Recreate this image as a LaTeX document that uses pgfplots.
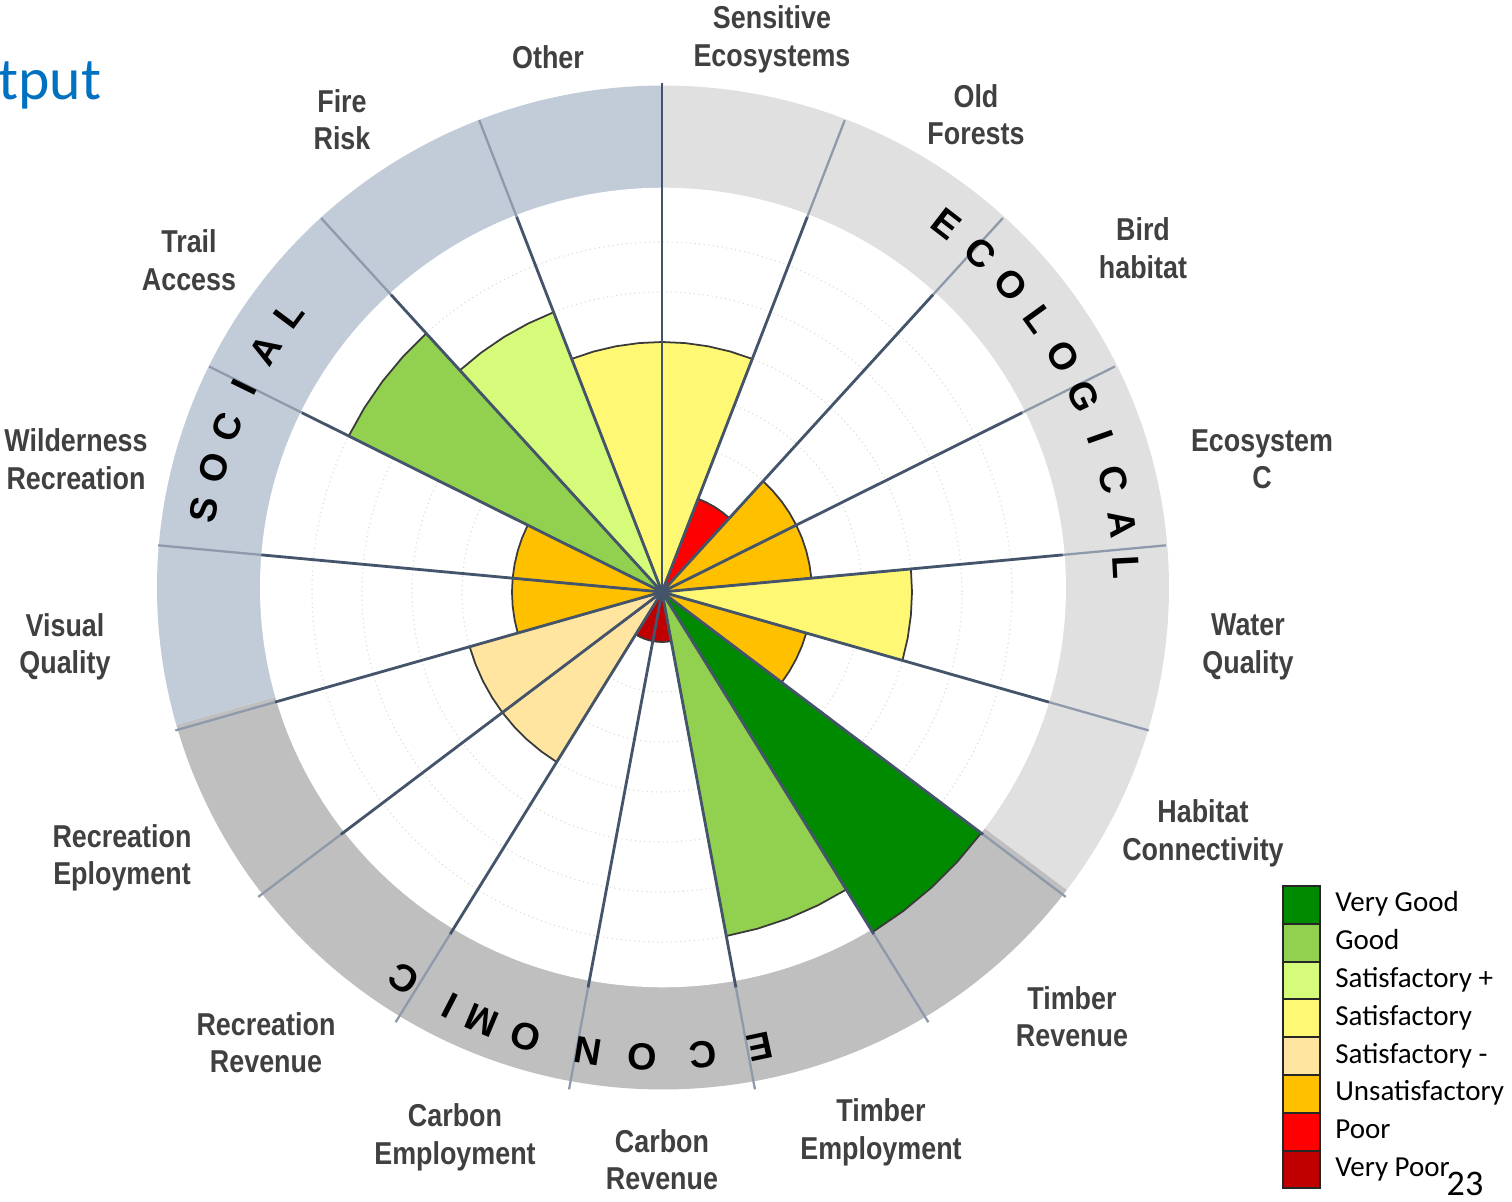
\documentclass[border=0pt]{standalone}
\usepackage{pgfplots}
\pgfplotsset{compat=1.18}
\usepgfplotslibrary{polar}
\usepackage{fontspec}
\setmainfont{Liberation Sans}
\newfontfamily\labfont[FakeStretch=0.85]{Liberation Sans}
\newfontfamily\calfont{Carlito}
\definecolor{ringeco}{HTML}{E0E0E0}
\definecolor{ringecon}{HTML}{BFBFBF}
\definecolor{ringsoc}{HTML}{C2CBD8}
\definecolor{radin}{HTML}{44546A}
\definecolor{radout}{HTML}{8E9AAB}
\definecolor{labgray}{HTML}{404040}
\definecolor{barline}{HTML}{3A3A3A}
\definecolor{titleblue}{HTML}{0070C0}
\definecolor{cvg}{HTML}{008A00}
\definecolor{cg}{HTML}{92D050}
\definecolor{csp}{HTML}{D6FA7A}
\definecolor{cs}{HTML}{FFF875}
\definecolor{csm}{HTML}{FFE59F}
\definecolor{cu}{HTML}{FFC000}
\definecolor{cp}{HTML}{FF0000}
\definecolor{cvp}{HTML}{C00000}
\begin{document}
\begin{tikzpicture}
\path[use as bounding box] (-13.24,-12.2) rectangle (17.0,11.84);
% outer ring
\begin{scope}[shift={(0.02,0.09)}, yscale=0.992]
\fill[ringeco] (0,0) -- (90:10.12) arc[start angle=90,end angle=-37.059,radius=10.12] -- cycle;
\fill[ringecon] (0,0) -- (-37.059:10.12) arc[start angle=-37.059,end angle=-164.118,radius=10.12] -- cycle;
\fill[ringsoc] (0,0) -- (-164.118:10.12) arc[start angle=-164.118,end angle=-270,radius=10.12] -- cycle;
\fill[white] (0,0) circle[radius=8.06];
\end{scope}
\foreach \r in {1,...,7} \draw[black!15, dotted, line width=0.6pt] (0,0) circle[radius=\r];
\begin{axis}[at={(-10.5cm,-10.5cm)}, anchor=south west, x=1cm, y=1cm,
  xmin=-10.5, xmax=10.5, ymin=-10.5, ymax=10.5, hide axis, clip=false]
% Sensitive Ecosystems = 5
\addplot[data cs=polar, fill=cs, draw=barline, line width=1pt] coordinates {(90,0) (90,5) (84.706,5) (79.412,5) (74.118,5) (68.824,5) (68.824,0)} --cycle;
% Old Forests = 2
\addplot[data cs=polar, fill=cp, draw=barline, line width=1pt] coordinates {(68.824,0) (68.824,2) (63.529,2) (58.235,2) (52.941,2) (47.647,2) (47.647,0)} --cycle;
% Bird habitat = 3
\addplot[data cs=polar, fill=cu, draw=barline, line width=1pt] coordinates {(47.647,0) (47.647,3) (42.353,3) (37.059,3) (31.765,3) (26.471,3) (26.471,0)} --cycle;
% Ecosystem C = 3
\addplot[data cs=polar, fill=cu, draw=barline, line width=1pt] coordinates {(26.471,0) (26.471,3) (21.176,3) (15.882,3) (10.588,3) (5.294,3) (5.294,0)} --cycle;
% Water Quality = 5
\addplot[data cs=polar, fill=cs, draw=barline, line width=1pt] coordinates {(5.294,0) (5.294,5) (0,5) (-5.294,5) (-10.588,5) (-15.882,5) (-15.882,0)} --cycle;
% Habitat Connectivity = 3
\addplot[data cs=polar, fill=cu, draw=barline, line width=1pt] coordinates {(-15.882,0) (-15.882,3) (-21.176,3) (-26.471,3) (-31.765,3) (-37.059,3) (-37.059,0)} --cycle;
% Timber Revenue = 8
\addplot[data cs=polar, fill=cvg, draw=barline, line width=1pt] coordinates {(-37.059,0) (-37.059,8) (-42.353,8) (-47.647,8) (-52.941,8) (-58.235,8) (-58.235,0)} --cycle;
% Timber Employment = 7
\addplot[data cs=polar, fill=cg, draw=barline, line width=1pt] coordinates {(-58.235,0) (-58.235,7) (-63.529,7) (-68.824,7) (-74.118,7) (-79.412,7) (-79.412,0)} --cycle;
% Carbon Revenue = 1
\addplot[data cs=polar, fill=cvp, draw=barline, line width=1pt] coordinates {(-79.412,0) (-79.412,1) (-84.706,1) (-90,1) (-95.294,1) (-100.588,1) (-100.588,0)} --cycle;
% Carbon Employment = 1
\addplot[data cs=polar, fill=cvp, draw=barline, line width=1pt] coordinates {(-100.588,0) (-100.588,1) (-105.882,1) (-111.176,1) (-116.471,1) (-121.765,1) (-121.765,0)} --cycle;
% Recreation Revenue = 4
\addplot[data cs=polar, fill=csm, draw=barline, line width=1pt] coordinates {(-121.765,0) (-121.765,4) (-127.059,4) (-132.353,4) (-137.647,4) (-142.941,4) (-142.941,0)} --cycle;
% Recreation Eployment = 4
\addplot[data cs=polar, fill=csm, draw=barline, line width=1pt] coordinates {(-142.941,0) (-142.941,4) (-148.235,4) (-153.529,4) (-158.824,4) (-164.118,4) (-164.118,0)} --cycle;
% Visual Quality = 3
\addplot[data cs=polar, fill=cu, draw=barline, line width=1pt] coordinates {(-164.118,0) (-164.118,3) (-169.412,3) (-174.706,3) (-180,3) (-185.294,3) (-185.294,0)} --cycle;
% Wilderness Recreation = 3
\addplot[data cs=polar, fill=cu, draw=barline, line width=1pt] coordinates {(-185.294,0) (-185.294,3) (-190.588,3) (-195.882,3) (-201.176,3) (-206.471,3) (-206.471,0)} --cycle;
% Trail Access = 7
\addplot[data cs=polar, fill=cg, draw=barline, line width=1pt] coordinates {(-206.471,0) (-206.471,7) (-211.765,7) (-217.059,7) (-222.353,7) (-227.647,7) (-227.647,0)} --cycle;
% Fire Risk = 6
\addplot[data cs=polar, fill=csp, draw=barline, line width=1pt] coordinates {(-227.647,0) (-227.647,6) (-232.941,6) (-238.235,6) (-243.529,6) (-248.824,6) (-248.824,0)} --cycle;
% Other = 5
\addplot[data cs=polar, fill=cs, draw=barline, line width=1pt] coordinates {(-248.824,0) (-248.824,5) (-254.118,5) (-259.412,5) (-264.706,5) (-270,5) (-270,0)} --cycle;
\end{axis}
% radial lines
\foreach \a in {68.824,47.647,26.471,5.294,-15.882,-37.059,-58.235,-79.412,-100.588,-121.765,-142.941,-164.118,-185.294,-206.471,-227.647,-248.824} {
  \draw[radin, line width=1.6pt] (0,0) -- (\a:8.05);
  \draw[radout, line width=1.3pt] (\a:8.05) -- (\a:10.12);
}
\draw[radin, line width=1.6pt] (0,0) -- (90:10.17);
\fill[radin] (0,0) circle[radius=0.14];
% category labels
\tikzset{lab/.style={font=\labfont\bfseries\fontsize{18}{21.3}\selectfont, text=labgray, align=center, inner sep=0pt}}
\node[lab] at (2.2,11.05) {Sensitive\\Ecosystems};
\node[lab] at (6.28,9.55) {Old\\Forests};
\node[lab] at (9.62,6.88) {Bird\\habitat};
\node[lab] at (12.0,2.66) {Ecosystem\\C};
\node[lab] at (11.72,-1.1) {Water\\Quality};
\node[lab] at (10.82,-4.83) {Habitat\\Connectivity};
\node[lab] at (8.2,-8.49) {Timber\\Revenue};
\node[lab] at (4.38,-10.81) {Timber\\Employment};
\node[lab] at (0,-11.35) {Carbon\\Revenue};
\node[lab] at (-4.14,-10.91) {Carbon\\Employment};
\node[lab] at (-7.92,-9.01) {Recreation\\Revenue};
\node[lab] at (-10.8,-5.32) {Recreation\\Eployment};
\node[lab] at (-11.94,-1.1) {Visual\\Quality};
\node[lab] at (-11.72,2.66) {Wilderness\\Recreation};
\node[lab] at (-9.46,6.64) {Trail\\Access};
\node[lab] at (-6.4,9.45) {Fire\\Risk};
\node[lab] at (-2.28,10.7) {Other};
% ring words
\tikzset{rl/.style={font=\bfseries\fontsize{21.5}{24}\selectfont, text=black, inner sep=0pt}}
\foreach \t/\l in {37.7/E,43.18/C,48.66/O,54.14/L,59.62/O,65.1/G,70.58/I,76.06/C,81.54/A,87.02/L,
  280.2/S,285.5/O,290.8/C,296.1/I,301.4/A,306.7/L,
  167.9/E,174.9/C,182.4/O,189.2/N,197.1/O,202.8/M,207.2/I,213.7/C}
  \node[rl, rotate=-\t] at ({90-\t}:9.3) {\l};
% legend
\tikzset{lg/.style={font=\calfont\fontsize{16.5}{19}\selectfont, anchor=base west, inner sep=0pt}}
\foreach \i/\c/\txt in {0/cvg/Very Good,1/cg/Good,2/csp/Satisfactory +,3/cs/Satisfactory,4/csm/Satisfactory -,5/cu/Unsatisfactory,6/cp/Poor,7/cvp/Very Poor} {
  \draw[fill=\c, line width=1.1pt, draw=black!85] (12.42,{-5.88-0.756*\i}) rectangle (13.16,{-5.88-0.756*(\i+1)});
  \node[lg] at (13.46,{-5.88-0.756*\i-0.378-0.14}) {\txt};
}
% title and page number
\node[anchor=base west, inner sep=0pt, text=titleblue, font=\calfont\fontsize{34}{40}\selectfont] at (-13.28,9.84) {tput};
\node[anchor=base, inner sep=0pt, font=\calfont\fontsize{20.5}{24}\selectfont] at (16.06,-12.06) {23};
\end{tikzpicture}
\end{document}
